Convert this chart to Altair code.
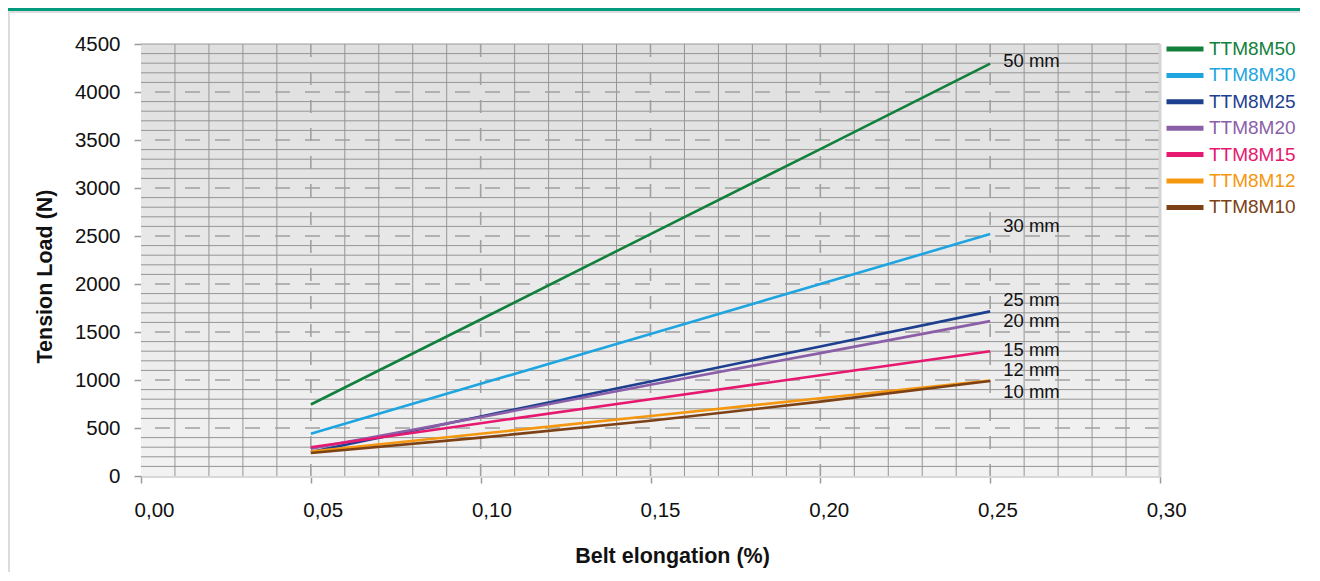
import altair as alt
import pandas as pd

# ---- data ----
elong = [0.05, 0.10, 0.15, 0.20, 0.25]
series = ["TTM8M50", "TTM8M30", "TTM8M25", "TTM8M20", "TTM8M15", "TTM8M12", "TTM8M10"]
values = {
    "TTM8M50": [745, 1630, 2520, 3405, 4295],
    "TTM8M30": [440, 960, 1480, 2000, 2520],
    "TTM8M25": [250, 620, 985, 1350, 1715],
    "TTM8M20": [285, 612, 950, 1280, 1613],
    "TTM8M15": [300, 550, 800, 1050, 1300],
    "TTM8M12": [255, 440, 625, 810, 995],
    "TTM8M10": [240, 400, 575, 775, 990],
}
colors = ["#12803c", "#1ea5e0", "#1d3f8f", "#8b5fa8", "#e6186f", "#f5970f", "#7d4116"]
end_labels = ["50 mm", "30 mm", "25 mm", "20 mm", "15 mm", "12 mm", "10 mm"]
end_label_y = [4320, 2600, 1835, 1615, 1312, 1104, 875]
x_ticks = [0.0, 0.05, 0.10, 0.15, 0.20, 0.25, 0.30]
y_ticks = [0, 500, 1000, 1500, 2000, 2500, 3000, 3500, 4000, 4500]

W, H = 1019, 432
FONT = "Liberation Sans"

rows = []
for s in series:
    for x, v in zip(elong, values[s]):
        rows.append({"x": x, "y": v, "series": s})
df = pd.DataFrame(rows)
lab_df = pd.DataFrame({"x": [0.25] * len(series), "y": end_label_y, "label": end_labels})

xs = alt.Scale(domain=[0, 0.30], nice=False, zero=False)
ys = alt.Scale(domain=[0, 4500], nice=False, zero=False)

X_AX = alt.Axis(
    values=x_ticks, grid=False, labelFlush=False,
    labelExpr="replace(format(datum.value, '.2f'), '.', ',')",
    labelFontSize=20.5, labelFont=FONT, labelColor="#111111", labelPadding=17,
    labelOffset={"expr": "13 - 23 * datum.value"},
    tickColor="#9a9a9a", tickSize=7, tickWidth=1.5,
    domainColor="#d8d8d8", domainWidth=3,
    title="Belt elongation (%)", titleFont=FONT, titleFontSize=21.5,
    titleFontWeight="bold", titleColor="#111111", titlePadding=25,
    titleX=531, titleAlign="center")
Y_AX = alt.Axis(
    values=y_ticks, grid=False, format="d",
    labelFontSize=20.5, labelFont=FONT, labelColor="#111111", labelPadding=14,
    tickColor="#9a9a9a", tickSize=7, tickWidth=1.5,
    domainColor="#999999", domainWidth=1,
    title="Tension Load (N)", titleFont=FONT, titleFontSize=21.5,
    titleFontWeight="bold", titleColor="#111111", titlePadding=18,
    titleY=232)

def xenc():
    return alt.X("x:Q", scale=xs, axis=X_AX)

def yenc():
    return alt.Y("y:Q", scale=ys, axis=Y_AX)

# grid positions
vminor = pd.DataFrame({"x": [i / 100 for i in range(1, 30) if i % 5 != 0]})
vmajor = pd.DataFrame({"x": [0.05, 0.10, 0.15, 0.20, 0.25]})
hminor = pd.DataFrame({"y": [v for v in range(100, 4500, 100) if v % 500 != 0]})
hmajor = pd.DataFrame({"y": list(range(500, 4500, 500))})
one = pd.DataFrame({"a": [0]})

bg = alt.Chart(one).mark_rect(
    fill=alt.Gradient(gradient="linear",
                      stops=[alt.GradientStop(color="#dfdfdf", offset=0),
                             alt.GradientStop(color="#f2f2f2", offset=1)],
                      x1=0, x2=0, y1=0, y2=1)
).encode(x=alt.value(0), x2=alt.value(W), y=alt.value(0), y2=alt.value(H))

topbar = alt.Chart(one).mark_rect(color="#009b7d").encode(
    x=alt.value(-140), x2=alt.value(W + 160), y=alt.value(-36), y2=alt.value(-33))
topline = alt.Chart(one).mark_rect(color="#dcdcdc").encode(
    x=alt.value(-140), x2=alt.value(W + 160), y=alt.value(-33), y2=alt.value(-31))
leftline = alt.Chart(one).mark_rect(color="#dcdcdc").encode(
    x=alt.value(-133), x2=alt.value(-131), y=alt.value(-33), y2=alt.value(H + 110))

g_vminor = alt.Chart(vminor).mark_rule(color="#959595", strokeWidth=1).encode(x=xenc())
g_vmajor = alt.Chart(vmajor).mark_rule(color="#a0a0a0", strokeWidth=1.6, strokeDash=[13, 15]).encode(x=xenc())
g_hminor = alt.Chart(hminor).mark_rule(color="#959595", strokeWidth=1).encode(y=yenc())
g_hmajor = alt.Chart(hmajor).mark_rule(color="#a0a0a0", strokeWidth=1.6, strokeDash=[15, 15]).encode(y=yenc())
g_top = alt.Chart(pd.DataFrame({"y": [4500]})).mark_rule(color="#999999", strokeWidth=1).encode(y=yenc())
g_right = alt.Chart(pd.DataFrame({"x": [0.30]})).mark_rule(color="#d4d4d4", strokeWidth=3).encode(x=xenc())

lines = alt.Chart(df).mark_line(strokeWidth=2.6).encode(
    x=xenc(),
    y=yenc(),
    color=alt.Color("series:N",
                    scale=alt.Scale(domain=series, range=colors),
                    sort=series,
                    legend=alt.Legend(
                        title=None, orient="none", legendX=1032, legendY=-7,
                        symbolType="M-2,0H2", symbolSize=342, symbolStrokeWidth=5,
                        labelFont=FONT, labelFontSize=19, labelOffset=12,
                        labelColor={"expr": "scale('color', datum.value)"},
                        rowPadding=4.4)),
    detail="series:N",
)

texts = alt.Chart(lab_df).mark_text(
    align="left", baseline="middle", dx=13, font=FONT, fontSize=18.5, color="#111111"
).encode(x=xenc(), y=yenc(), text="label:N")

chart = alt.layer(
    topbar, topline, leftline, bg, g_vminor, g_hminor, g_vmajor, g_hmajor, g_top, g_right, lines, texts
).properties(
    width=W, height=H,
    autosize=alt.AutoSizeParams(type="none"),
    padding={"left": 133, "top": 36, "right": 140, "bottom": 96},
    background="white",
).configure_view(stroke=None)

chart.save("out.html", embed_options={"renderer": "svg", "actions": False})
